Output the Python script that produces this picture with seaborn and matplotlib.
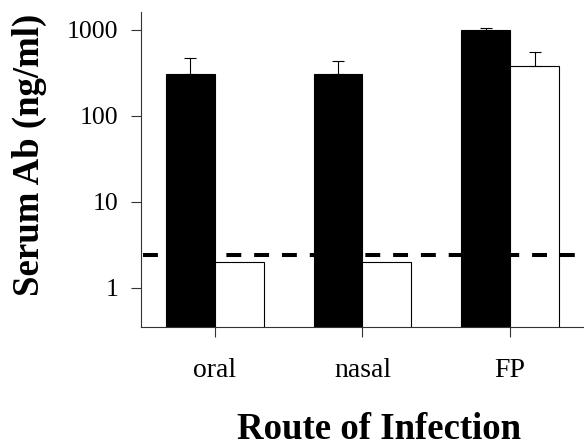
import matplotlib
matplotlib.use("Agg")
import matplotlib.pyplot as plt
import seaborn as sns
import pandas as pd
import numpy as np

routes = ["oral", "nasal", "FP"]
groups = ["filled", "open"]
filled_values = [308, 308, 1000]
open_values = [2.0, 2.0, 381]
filled_err_top = [472, 437, 1035]
open_err_top = [None, None, 555]
detection_limit = 2.42
y_ticks = [1, 10, 100, 1000]
y_tick_labels = ["1", "10", "100", "1000"]

sns.set_theme(style="white")
plt.rcParams["font.family"] = ["Liberation Serif", "DejaVu Serif"]
plt.rcParams["text.color"] = "black"
plt.rcParams["axes.labelcolor"] = "black"
plt.rcParams["xtick.color"] = "black"
plt.rcParams["ytick.color"] = "black"

df = pd.DataFrame({
    "route": routes * 2,
    "group": [groups[0]] * 3 + [groups[1]] * 3,
    "value": filled_values + open_values,
})

fig = plt.figure(figsize=(5.84, 4.47), dpi=100)
ax = fig.add_axes([0.2414, 0.2685, 0.7586, 0.7045])

sns.barplot(data=df, x="route", y="value", hue="group", order=routes,
            hue_order=groups, palette={"filled": "black", "open": "white"},
            edgecolor="black", linewidth=0.8, width=0.66, errorbar=None,
            legend=False, ax=ax, zorder=2)
ax.set_yscale("log")

# error bars (upper only)
patches = [p for p in ax.patches]
n = len(routes)
for i, p in enumerate(patches[:2 * n]):
    g = i // n
    r = i % n
    top = (filled_err_top if g == 0 else open_err_top)[r]
    val = (filled_values if g == 0 else open_values)[r]
    if top is None:
        continue
    xc = p.get_x() + p.get_width() / 2
    ax.errorbar([xc], [val], yerr=[[0], [top - val]], fmt="none",
                ecolor="black", elinewidth=0.8, capsize=4.5, capthick=0.8,
                zorder=3)

ax.axhline(detection_limit, xmin=0.004, xmax=1.0, color="black", lw=2.9,
           dashes=(3.7, 3.2), zorder=4)

ax.set_xlim(-0.5, 2.5)
ax.set_ylim(0.352, 1600)
ax.set_yticks(y_ticks)
ax.set_yticklabels(y_tick_labels)
ax.yaxis.set_minor_locator(matplotlib.ticker.NullLocator())

for s in ["top", "right"]:
    ax.spines[s].set_visible(False)
for s in ["left", "bottom"]:
    ax.spines[s].set_color("#333333")
    ax.spines[s].set_linewidth(0.8)

ax.tick_params(axis="y", direction="out", length=7.5, width=0.8, color="#333333",
               labelsize=18.5, labelcolor="black", pad=9, left=True)
ax.tick_params(axis="x", direction="out", length=7.5, width=0.8, color="#333333",
               labelsize=20, labelcolor="black", pad=15, bottom=True)

ax.set_xlabel("Route of Infection", fontsize=26.5, fontweight="bold",
              labelpad=20.5, color="black")
ax.xaxis.label.set_x(0.538)
ax.set_ylabel("Serum Ab (ng/ml)", fontsize=26.5, fontweight="bold",
              color="black")
ax.yaxis.set_label_coords(-0.213, 0.546)

fig.savefig("out.png", dpi=100)
